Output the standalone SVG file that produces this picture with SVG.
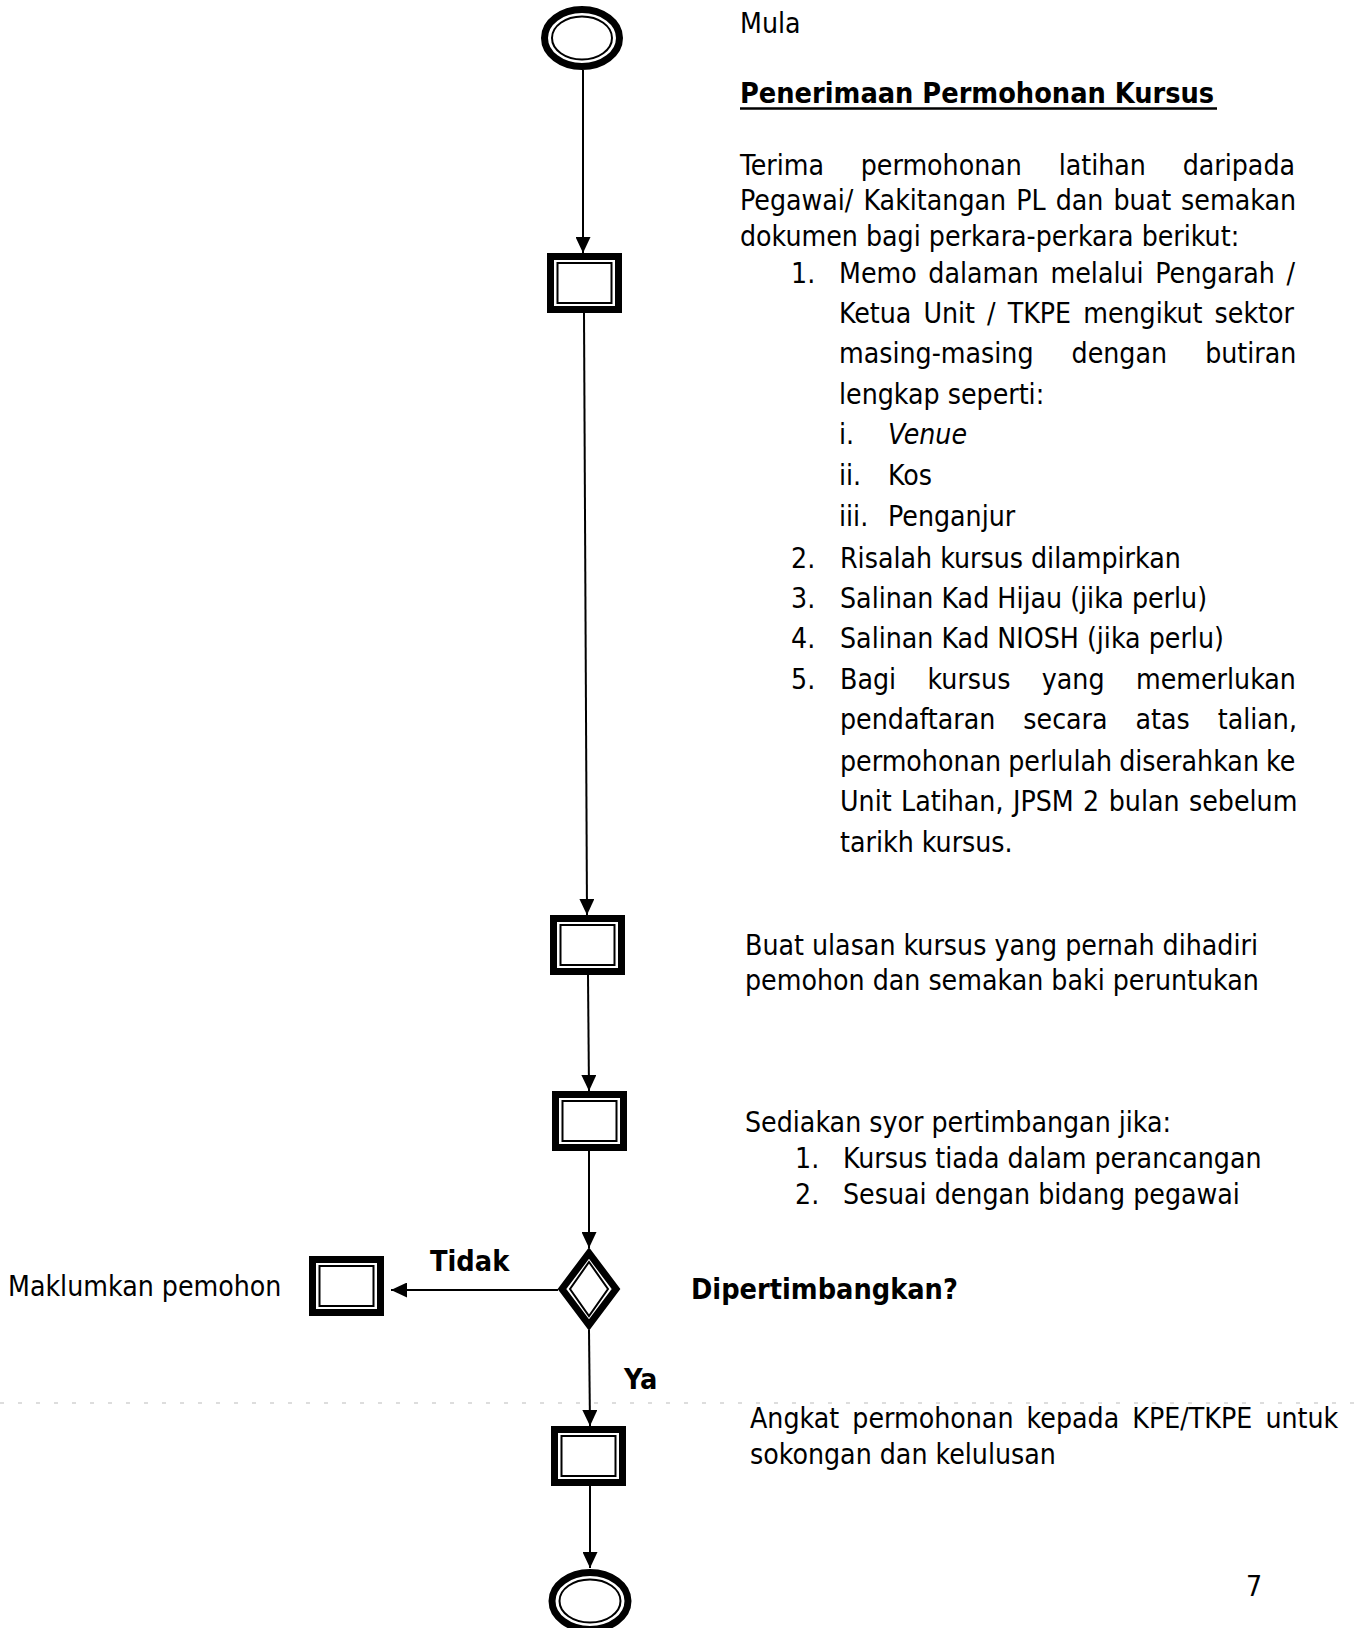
<svg xmlns="http://www.w3.org/2000/svg" width="1362" height="1628" viewBox="0 0 1362 1628">
<style>
  text { font-family: "DejaVu Sans Condensed", "DejaVu Sans", Verdana, sans-serif; font-size: 28.2px; fill: #000; }
  .b { font-weight: bold; font-size: 28.6px; }
  .it { font-style: italic; }
  .thick { fill: #fff; stroke: #000; stroke-width: 7; }
  .thin { fill: none; stroke: #000; stroke-width: 2; }
  .conn { fill: none; stroke: #000; stroke-width: 2; marker-end: url(#arr); }
</style>
<defs>
  <marker id="arr" viewBox="0 0 16 15" refX="16" refY="7.5" markerWidth="16" markerHeight="15" markerUnits="userSpaceOnUse" orient="auto">
    <path d="M0,0 L16,7.5 L0,15 z" fill="#000"/>
  </marker>
</defs>
<rect width="1362" height="1628" fill="#fff"/>
<line x1="0" y1="1403" x2="1362" y2="1403" stroke="#bbb" stroke-width="1" stroke-dasharray="4 14"/>

<g id="connectors">
  <path class="conn" d="M583,70 L583,253"/>
  <path class="conn" d="M584,313 L587,915"/>
  <path class="conn" d="M588,975 L589,1091"/>
  <path class="conn" d="M589,1151 L589,1248"/>
  <path class="conn" d="M558,1290 L391,1290"/>
  <path class="conn" d="M589,1330 L590,1426"/>
  <path class="conn" d="M590,1486 L590,1568"/>
</g>

<g id="start">
  <ellipse class="thick" cx="582" cy="38" rx="37.5" ry="28.5" stroke-width="8"/>
  <ellipse class="thin" cx="582" cy="38" rx="30" ry="21.5"/>
</g>
<g id="terima" transform="translate(547,253)">
  <rect class="thick" x="3.5" y="3.5" width="68" height="53"/>
  <rect class="thin" x="10.5" y="10" width="54" height="40"/>
</g>
<g id="ulasan" transform="translate(550,915)">
  <rect class="thick" x="3.5" y="3.5" width="68" height="53"/>
  <rect class="thin" x="10.5" y="10" width="54" height="40"/>
</g>
<g id="syor" transform="translate(552,1091)">
  <rect class="thick" x="3.5" y="3.5" width="68" height="53"/>
  <rect class="thin" x="10.5" y="10" width="54" height="40"/>
</g>
<g id="dipertimbangkan">
  <path class="thick" d="M589,1253 L616,1289 L589,1325 L562,1289 Z"/>
  <path class="thin" d="M589,1262 L608,1289 L589,1316 L570,1289 Z"/>
</g>
<g id="maklumkan" transform="translate(309,1256)">
  <rect class="thick" x="3.5" y="3.5" width="68" height="53"/>
  <rect class="thin" x="10.5" y="10" width="54" height="40"/>
</g>
<g id="angkat" transform="translate(551,1426)">
  <rect class="thick" x="3.5" y="3.5" width="68" height="53"/>
  <rect class="thin" x="10.5" y="10" width="54" height="40"/>
</g>
<g id="end">
  <ellipse class="thick" cx="590" cy="1601" rx="38" ry="28.5" stroke-width="8"/>
  <ellipse class="thin" cx="590" cy="1601" rx="30.5" ry="21.5"/>
</g>

<g id="labels">
  <text x="740" y="33">Mula</text>
  <text class="b" x="740" y="103">Penerimaan Permohonan Kursus</text>
  <line x1="740" y1="108.5" x2="1217" y2="108.5" stroke="#000" stroke-width="2.5"/>

  <text x="740" y="175" word-spacing="28.7">Terima permohonan latihan daripada</text>
  <text x="740" y="210" word-spacing="2">Pegawai/ Kakitangan PL dan buat semakan</text>
  <text x="740" y="246">dokumen bagi perkara-perkara berikut:</text>

  <text x="791" y="283">1.</text>
  <text x="839" y="283" word-spacing="3.6">Memo dalaman melalui Pengarah /</text>
  <text x="839" y="323" word-spacing="4">Ketua Unit / TKPE mengikut sektor</text>
  <text x="839" y="363" word-spacing="30">masing-masing dengan butiran</text>
  <text x="839" y="404">lengkap seperti:</text>
  <text x="839" y="444">i.</text>
  <text class="it" x="888" y="444">Venue</text>
  <text x="839" y="485">ii.</text>
  <text x="888" y="485">Kos</text>
  <text x="839" y="526">iii.</text>
  <text x="888" y="526">Penganjur</text>

  <text x="791" y="568">2.</text>
  <text x="840" y="568">Risalah kursus dilampirkan</text>
  <text x="791" y="608">3.</text>
  <text x="840" y="608">Salinan Kad Hijau (jika perlu)</text>
  <text x="791" y="648">4.</text>
  <text x="840" y="648">Salinan Kad NIOSH (jika perlu)</text>
  <text x="791" y="689">5.</text>
  <text x="840" y="689" word-spacing="23.4">Bagi kursus yang memerlukan</text>
  <text x="840" y="729" word-spacing="19.9">pendaftaran secara atas talian,</text>
  <text x="840" y="771" word-spacing="-1">permohonan perlulah diserahkan ke</text>
  <text x="840" y="811" word-spacing="1.4">Unit Latihan, JPSM 2 bulan sebelum</text>
  <text x="840" y="852">tarikh kursus.</text>

  <text x="745" y="955">Buat ulasan kursus yang pernah dihadiri</text>
  <text x="745" y="990">pemohon dan semakan baki peruntukan</text>

  <text x="745" y="1132">Sediakan syor pertimbangan jika:</text>
  <text x="795" y="1168">1.</text>
  <text x="843" y="1168">Kursus tiada dalam perancangan</text>
  <text x="795" y="1204">2.</text>
  <text x="843" y="1204">Sesuai dengan bidang pegawai</text>

  <text class="b" x="430" y="1271">Tidak</text>
  <text x="8" y="1296">Maklumkan pemohon</text>
  <text class="b" x="691" y="1299">Dipertimbangkan?</text>
  <text class="b" x="624" y="1389">Ya</text>

  <text x="750" y="1428" word-spacing="5.1">Angkat permohonan kepada KPE/TKPE untuk</text>
  <text x="750" y="1464">sokongan dan kelulusan</text>

  <text x="1246" y="1596">7</text>
</g>
</svg>
